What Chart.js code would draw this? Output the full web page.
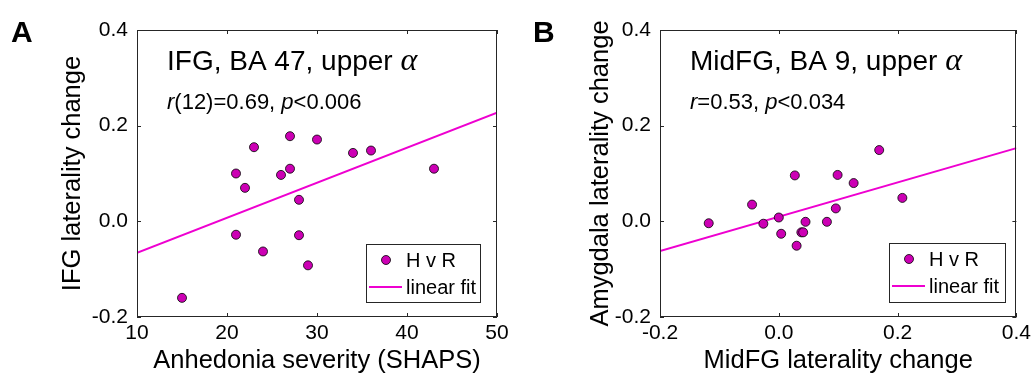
<!DOCTYPE html>
<html>
<head>
<meta charset="utf-8">
<script src="https://cdn.jsdelivr.net/npm/chart.js@4/dist/chart.umd.min.js"></script>
<style>
  html, body { margin: 0; padding: 0; background: #fff; }
  #wrap { position: relative; width: 1035px; height: 384px; }
  canvas { position: absolute; top: 0; }
  #cA { left: 0; }
  #cB { left: 517px; }
</style>
</head>
<body>
<div id="wrap">
  <canvas id="cA" width="517" height="384"></canvas>
  <canvas id="cB" width="518" height="384"></canvas>
</div>
<script>
// ---------- Panel A data ----------
const shapsX = [15, 21, 22, 23, 27, 26, 27, 28, 30, 34, 36, 43, 21, 28, 24, 29];
const ifgY   = [-0.16, 0.10, 0.07, 0.155, 0.178, 0.097, 0.11, 0.045, 0.171, 0.143, 0.148, 0.11, -0.028, -0.029, -0.063, -0.092];
const fitAX  = [10, 50];
const fitAY  = [-0.066, 0.227];
const xTicksA = [10, 20, 30, 40, 50];
const yTicks  = [-0.2, 0.0, 0.2, 0.4];

// ---------- Panel B data ----------
const midfgX = [-0.118, -0.045, -0.026, 0.0, 0.004, 0.027, 0.030, 0.038, 0.041, 0.045, 0.081, 0.096, 0.099, 0.126, 0.169, 0.208];
const amygY  = [-0.004, 0.035, -0.005, 0.008, -0.026, 0.096, -0.051, -0.023, -0.023, -0.001, -0.001, 0.027, 0.097, 0.080, 0.149, 0.049];
const fitBX  = [-0.2, 0.4];
const fitBY  = [-0.062, 0.153];
const xTicksB = [-0.2, 0.0, 0.2, 0.4];

const seriesLabels = ['H v R', 'linear fit'];

const MARK_FILL = '#cc00b4';
const LINE_COL  = '#ee00d0';
const AX_COL    = '#262626';
const SANS = '"Liberation Sans", Arial, sans-serif';

function pts(xs, ys) { return xs.map((x, i) => ({ x: x, y: ys[i] })); }

const boxPlugin = {
  id: 'boxTicks',
  afterDatasetsDraw(chart) {
    const { ctx, chartArea: a, scales } = chart;
    ctx.save();
    ctx.strokeStyle = AX_COL;
    ctx.lineWidth = 1;
    ctx.strokeRect(Math.round(a.left) + 0.5, Math.round(a.top) + 0.5,
                   Math.round(a.right - a.left) - 1, Math.round(a.bottom - a.top) - 1);
    const L = 4;
    ctx.beginPath();
    scales.x.ticks.forEach(t => {
      const px = Math.round(scales.x.getPixelForValue(t.value)) + 0.5;
      ctx.moveTo(px, a.bottom); ctx.lineTo(px, a.bottom - L);
      ctx.moveTo(px, a.top); ctx.lineTo(px, a.top + L);
    });
    scales.y.ticks.forEach(t => {
      const py = Math.round(scales.y.getPixelForValue(t.value)) + 0.5;
      ctx.moveTo(a.left, py); ctx.lineTo(a.left + L, py);
      ctx.moveTo(a.right, py); ctx.lineTo(a.right - L, py);
    });
    ctx.stroke();
    ctx.restore();
  }
};

function drawSegments(ctx, segs, x, y) {
  segs.forEach(s => {
    ctx.font = s.font;
    ctx.fillText(s.t, x, y);
    x += ctx.measureText(s.t).width;
  });
}

const annotPlugin = {
  id: 'annot',
  afterDraw(chart) {
    const o = chart.options.plugins.annot;
    const { ctx } = chart;
    ctx.save();
    ctx.fillStyle = '#000';
    ctx.textBaseline = 'alphabetic';
    ctx.textAlign = 'left';
    // panel letter
    ctx.font = 'bold 30px ' + SANS;
    ctx.fillText(o.letter, o.letterX, 42);
    // title
    drawSegments(ctx, [
      { t: o.title, font: '28px ' + SANS },
      { t: 'α', font: 'italic 32px "Liberation Serif", "DejaVu Serif", serif' }
    ], o.textX, 70);
    // stats
    drawSegments(ctx, o.stats.map(s => ({
      t: s.t, font: (s.i ? 'italic ' : '') + '22px ' + SANS
    })), o.textX, 109);
    // legend
    const lg = o.legend;
    ctx.fillStyle = '#fff';
    ctx.fillRect(lg.x, lg.y, lg.w, lg.h);
    ctx.strokeStyle = AX_COL;
    ctx.lineWidth = 1;
    ctx.strokeRect(lg.x + 0.5, lg.y + 0.5, lg.w, lg.h);
    const ds = chart.data.datasets;
    // marker
    ctx.beginPath();
    ctx.arc(lg.x + 20, lg.y + 16, 4.5, 0, Math.PI * 2);
    ctx.fillStyle = MARK_FILL;
    ctx.fill();
    ctx.strokeStyle = '#000';
    ctx.lineWidth = 0.8;
    ctx.stroke();
    // line sample
    ctx.beginPath();
    ctx.moveTo(lg.x + 3, lg.y + 43);
    ctx.lineTo(lg.x + 36, lg.y + 43);
    ctx.strokeStyle = LINE_COL;
    ctx.lineWidth = 2;
    ctx.stroke();
    ctx.fillStyle = '#000';
    ctx.font = '20px ' + SANS;
    ctx.fillText(ds[0].label, lg.x + 40, lg.y + 23);
    ctx.fillText(ds[1].label, lg.x + 40, lg.y + 50);
    ctx.restore();
  }
};

function makeChart(id, cfg) {
  return new Chart(document.getElementById(id), {
    type: 'scatter',
    data: {
      datasets: [
        {
          label: seriesLabels[0],
          data: pts(cfg.xs, cfg.ys),
          pointRadius: 4.5,
          pointBackgroundColor: MARK_FILL,
          pointBorderColor: '#000',
          pointBorderWidth: 0.8,
          order: 1
        },
        {
          type: 'line',
          label: seriesLabels[1],
          data: pts(cfg.fx, cfg.fy),
          borderColor: LINE_COL,
          borderWidth: 2,
          pointRadius: 0,
          fill: false,
          order: 2
        }
      ]
    },
    options: {
      responsive: false,
      animation: false,
      devicePixelRatio: 1,
      layout: { padding: { left: 0, right: cfg.padRight, top: 30, bottom: 0 } },
      plugins: {
        legend: { display: false },
        tooltip: { enabled: false },
        annot: cfg.annot
      },
      scales: {
        x: {
          type: 'linear',
          min: cfg.xTicks[0], max: cfg.xTicks[cfg.xTicks.length - 1],
          afterBuildTicks: s => { s.ticks = cfg.xTicks.map(v => ({ value: v })); },
          afterFit: s => { s.height = 67; },
          grid: { display: false, drawTicks: false },
          border: { display: false },
          ticks: {
            padding: 4,
            color: '#000',
            font: { family: SANS, size: 21 },
            callback: cfg.xFmt
          },
          title: {
            display: true, text: cfg.xTitle, color: '#000',
            font: { family: SANS, size: 25.5, lineHeight: 1 },
            padding: { top: 0, bottom: 10 }
          }
        },
        y: {
          type: 'linear',
          min: -0.2, max: 0.4,
          afterBuildTicks: s => { s.ticks = yTicks.map(v => ({ value: v })); },
          afterFit: s => { s.width = cfg.yWidth; },
          grid: { display: false, drawTicks: false },
          border: { display: false },
          ticks: {
            padding: 9,
            color: '#000',
            font: { family: SANS, size: 21 },
            callback: v => v.toFixed(1)
          },
          title: {
            display: true, text: cfg.yTitle, color: '#000',
            font: { family: SANS, size: 25.5, lineHeight: 1 },
            padding: { top: cfg.yTitlePad, bottom: 0 }
          }
        }
      }
    },
    plugins: [boxPlugin, annotPlugin]
  });
}

makeChart('cA', {
  xs: shapsX, ys: ifgY, fx: fitAX, fy: fitAY,
  xTicks: xTicksA, xFmt: v => String(v),
  xTitle: 'Anhedonia severity (SHAPS)',
  yTitle: 'IFG laterality change',
  yWidth: 137, yTitlePad: 60, padRight: 20,
  annot: {
    letter: 'A', letterX: 11, textX: 167,
    title: 'IFG, BA 47, upper ',
    stats: [{ t: 'r', i: true }, { t: '(12)=0.69, ' }, { t: 'p', i: true }, { t: '<0.006' }],
    legend: { x: 366, y: 244, w: 114, h: 58 }
  }
});

makeChart('cB', {
  xs: midfgX, ys: amygY, fx: fitBX, fy: fitBY,
  xTicks: xTicksB, xFmt: v => v.toFixed(1),
  xTitle: 'MidFG laterality change',
  yTitle: 'Amygdala laterality change',
  yWidth: 143, yTitlePad: 71, padRight: 17,
  annot: {
    letter: 'B', letterX: 16, textX: 173,
    title: 'MidFG, BA 9, upper ',
    stats: [{ t: 'r', i: true }, { t: '=0.53, ' }, { t: 'p', i: true }, { t: '<0.034' }],
    legend: { x: 372, y: 243, w: 116, h: 59 }
  }
});
</script>
</body>
</html>
